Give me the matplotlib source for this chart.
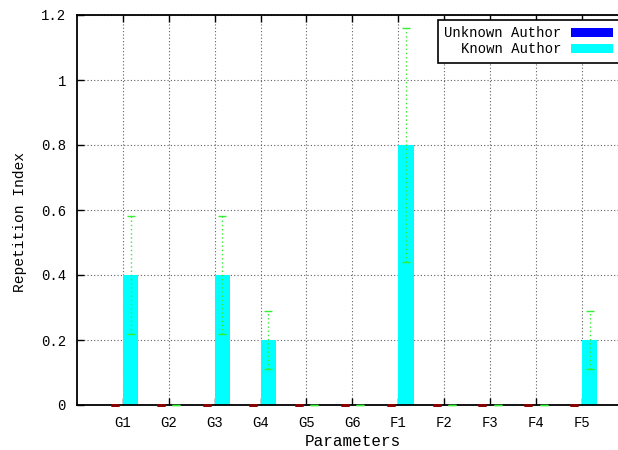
import matplotlib
matplotlib.use("Agg")
import matplotlib.pyplot as plt
from matplotlib.patches import Patch
import numpy as np

categories = ['G1', 'G2', 'G3', 'G4', 'G5', 'G6', 'F1', 'F2', 'F3', 'F4', 'F5']
unknown = [0, 0, 0, 0, 0, 0, 0, 0, 0, 0, 0]
unknown_err = [0, 0, 0, 0, 0, 0, 0, 0, 0, 0, 0]
known = [0.4, 0, 0.4, 0.2, 0, 0, 0.8, 0, 0, 0, 0.2]
known_err = [0.18, 0, 0.18, 0.09, 0, 0, 0.36, 0, 0, 0, 0.09]
yticks = [0, 0.2, 0.4, 0.6, 0.8, 1, 1.2]
ytick_labels = ['0', '0.2', '0.4', '0.6', '0.8', '1', '1.2']

plt.rcParams['font.family'] = ['Liberation Mono', 'DejaVu Sans Mono']
plt.rcParams['font.size'] = 10

W, H = 618, 450
fig = plt.figure(figsize=(W / 100, H / 100), dpi=100)
left, bottom, top = 77, 405, 15
unit = 45.9
xmin, xmax = -1, 11
ax = fig.add_axes([left / W, (H - bottom) / H, (xmax - xmin) * unit / W, (bottom - top) / H])

x = np.arange(len(categories))
bw = 1 / 3
ax.bar(x - bw / 2, unknown, width=bw, color='#0000ff', edgecolor='none', zorder=2)
ax.bar(x + bw / 2, known, width=bw, color='#00ffff', edgecolor='none', zorder=2)

eb1 = ax.errorbar(x - bw / 2, unknown, yerr=unknown_err, fmt='none', ecolor='#8b0000',
                  elinewidth=1, capsize=3, capthick=2, zorder=5)
eb2 = ax.errorbar(x + bw / 2, known, yerr=known_err, fmt='none', ecolor='#33ee33',
                  elinewidth=1, capsize=3, capthick=1, zorder=5)
for lc in eb2[2]:
    lc.set_linestyle((0, (1, 2)))
for cap in eb1[1]:
    cap.set_clip_on(False)
    cap.set_zorder(6)
for cap in eb2[1]:
    cap.set_clip_on(False)
    cap.set_zorder(6)

ax.set_xlim(xmin, xmax)
ax.set_ylim(0, 1.2)
ax.set_xticks(x)
ax.set_xticklabels(categories)
ax.set_yticks(yticks)
ax.set_yticklabels(ytick_labels)
ax.tick_params(direction='in', length=5, width=1, top=True, right=False, pad=8, color='black')
ax.grid(True, color='#606060', linestyle=(0, (1, 2)), linewidth=0.8, zorder=0)
ax.set_axisbelow(True)
for s in ('left', 'bottom', 'top', 'right'):
    ax.spines[s].set_linewidth(1.3)
    ax.spines[s].set_color('black')

fig.text(20 / W, 1 - 222 / H, 'Repetition Index', rotation=90, ha='center', va='center', fontsize=10.5)
fig.text(353 / W, 1 - 441 / H, 'Parameters', ha='center', va='center', fontsize=11.5)

handles = [Patch(facecolor='#0000ff', edgecolor='none'), Patch(facecolor='#00ffff', edgecolor='none')]
leg = ax.legend(handles, ['Unknown Author', 'Known Author'], loc='upper right',
                bbox_to_anchor=(619 / W, 1 - 20 / H), bbox_transform=fig.transFigure,
                markerfirst=False, fancybox=False, framealpha=1, edgecolor='black',
                borderaxespad=0, handlelength=3.0, handleheight=0.6, handletextpad=0.7,
                labelspacing=0.15, borderpad=0.45)
leg.get_frame().set_linewidth(1.2)
for t in leg.get_texts():
    t.set_ha('right')

fig.savefig('out.png', dpi=100)
